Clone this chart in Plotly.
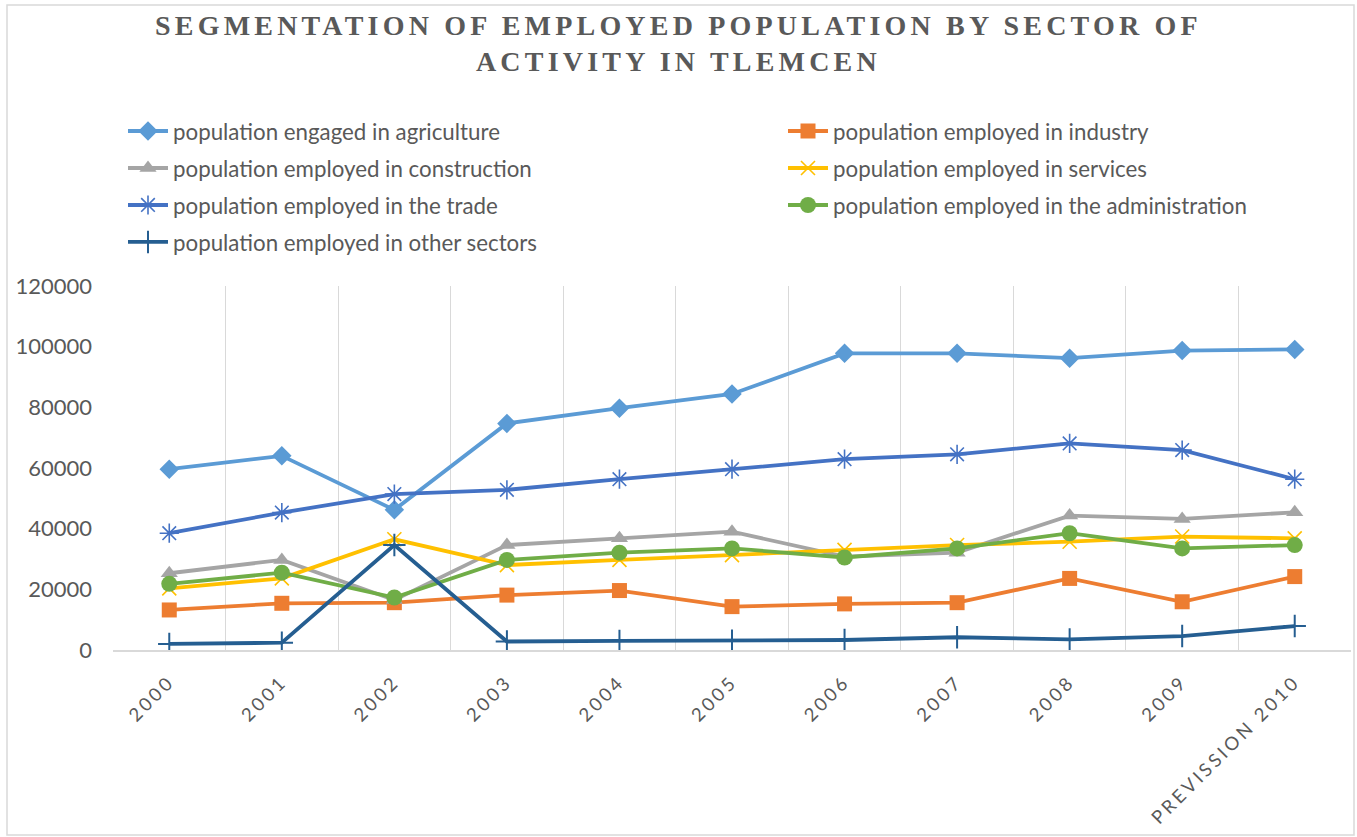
import plotly.graph_objects as go

# Categories and series (employed persons per sector)
years = ["2000", "2001", "2002", "2003", "2004", "2005", "2006", "2007", "2008", "2009", "PREVISSION 2010"]
agriculture = [59600, 64000, 46200, 74700, 79700, 84400, 97800, 97800, 96200, 98700, 99100]
industry = [13200, 15400, 15600, 18100, 19600, 14300, 15200, 15600, 23600, 15900, 24200]
construction = [25300, 29700, 16500, 34600, 36800, 39000, 30800, 32100, 44300, 43200, 45400]
services = [20300, 23600, 36500, 28000, 29700, 31300, 33000, 34600, 35700, 37400, 36800]
trade = [38500, 45300, 51400, 52800, 56300, 59600, 62900, 64500, 68100, 65900, 56300]
administration = [21800, 25500, 17300, 29700, 32100, 33500, 30500, 33500, 38500, 33500, 34600]
other = [2000, 2400, 34600, 2800, 3000, 3100, 3300, 4200, 3500, 4600, 7900]

y_ticks = [0, 20000, 40000, 60000, 80000, 100000, 120000]

TXT = "#595959"
GRID = "#d9d9d9"

series = [
    ("population engaged in agriculture", agriculture, "#5B9BD5", dict(symbol="diamond", size=15), "legend"),
    ("population employed in industry", industry, "#ED7D31", dict(symbol="square", size=15), "legend2"),
    ("population employed in construction", construction, "#A5A5A5", dict(symbol="triangle-up", size=15), "legend"),
    ("population employed in services", services, "#FFC000", dict(symbol="x-thin-open", size=14, line=dict(width=1.6, color="#FFC000")), "legend2"),
    ("population employed in the trade", trade, "#4472C4", dict(symbol="asterisk-open", size=16, line=dict(width=1.6, color="#4472C4")), "legend"),
    ("population employed in the administration", administration, "#70AD47", dict(symbol="circle", size=16), "legend2"),
    ("population employed in other sectors", other, "#255E91", dict(symbol="cross-thin-open", size=16, line=dict(width=2, color="#255E91")), "legend"),
]

fig = go.Figure()
for i, (name, vals, color, mk, lg) in enumerate(series):
    fig.add_trace(go.Scatter(
        x=years, y=vals, name=name, mode="lines+markers",
        line=dict(color=color, width=3.8),
        marker=dict(color=color, **mk),
        legend=lg, legendgroup=f"g{i}",
    ))

W, H = 1357, 837
L, R, T, B = 113, 6, 286, 187
pw, ph = W - L - R, H - T - B


def px_x(px):
    return (px - L) / pw


def px_y(py):
    return (H - B - py) / ph


legend_font = dict(family="Lato", size=22.3, color=TXT)
legend_common = dict(
    orientation="v", font=legend_font, bgcolor="rgba(0,0,0,0)",
    tracegroupgap=5, itemwidth=40, xanchor="left", yanchor="top",
)

fig.update_layout(
    width=W, height=H,
    margin=dict(l=L, r=R, t=T, b=B),
    paper_bgcolor="white", plot_bgcolor="white",
    legend=dict(x=px_x(123), y=px_y(110), **legend_common),
    legend2=dict(x=px_x(783), y=px_y(110), **legend_common),
    xaxis=dict(
        type="category", range=[-0.5, 10.5],
        tickson="boundaries", showgrid=True, gridcolor=GRID, gridwidth=1,
        showline=True, linecolor=GRID, linewidth=1.5,
        ticks="", tickangle=-45,
        tickvals=years,
        ticktext=[f"<span style='letter-spacing:3.2px'>{y}</span>" for y in years],
        tickfont=dict(family="Lato", size=18.5, color=TXT),
        ticklabelstandoff=12,
    ),
    yaxis=dict(
        range=[0, 120000], tickvals=y_ticks, ticktext=[str(v) for v in y_ticks],
        showgrid=False, zeroline=False, showline=False, ticks="",
        tickfont=dict(family="Lato", size=22, color=TXT),
        ticklabelstandoff=20,
    ),
    showlegend=True,
)

# Chart title, two centred lines
fig.add_annotation(
    text="<span style='letter-spacing:4.2px'>SEGMENTATION OF EMPLOYED POPULATION BY SECTOR OF<br>ACTIVITY IN TLEMCEN</span>",
    xref="paper", yref="paper", x=px_x(W / 2), y=px_y(44),
    xanchor="center", yanchor="middle", showarrow=False,
    font=dict(family="Liberation Serif", size=28, color=TXT, weight="bold"),
)

# Outer chart frame
fig.add_shape(type="rect", xref="paper", yref="paper",
              x0=px_x(7), x1=px_x(1354), y0=px_y(835), y1=px_y(5),
              line=dict(color=GRID, width=1.5), fillcolor="rgba(0,0,0,0)", layer="below")

fig.write_html("out.html")
